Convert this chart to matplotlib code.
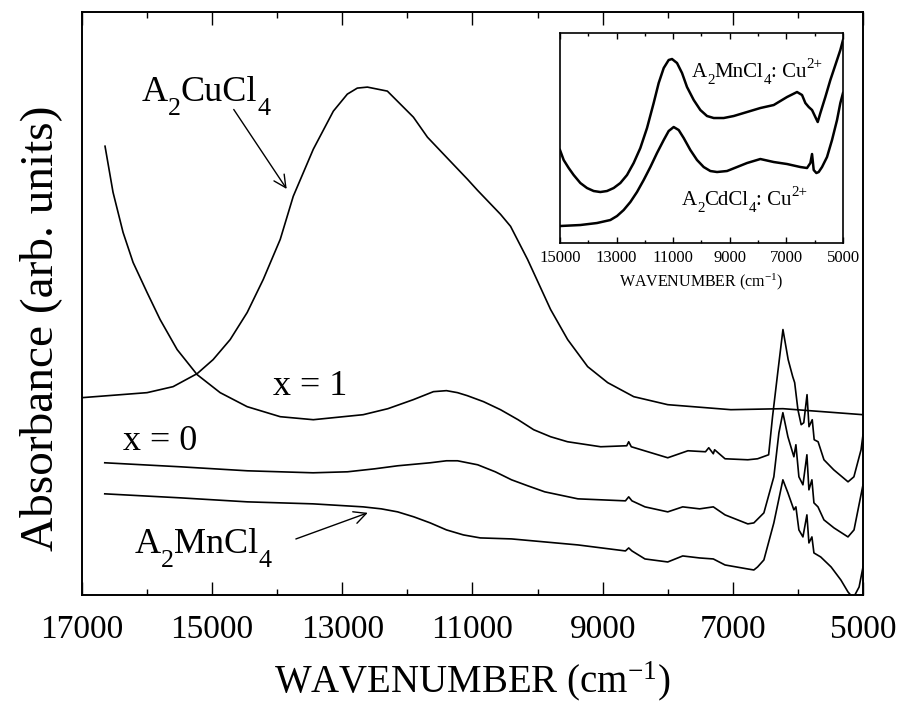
import matplotlib
matplotlib.use("Agg")
import matplotlib.pyplot as plt

plt.rcParams['font.family'] = ['Liberation Serif', 'DejaVu Serif']
plt.rcParams['mathtext.fontset'] = 'custom'
plt.rcParams['mathtext.rm'] = 'Liberation Serif'
plt.rcParams['mathtext.it'] = 'Liberation Serif:italic'
plt.rcParams['mathtext.bf'] = 'Liberation Serif:bold'

# ---------------- main panel data (wavenumber cm-1, absorbance arb. units) -------------
cu_wn = [17000, 16000, 15600, 15230, 14985, 14723, 14462, 14215, 13954, 13754, 13446,
         13138, 12923, 12770, 12615, 12308, 12108, 11908, 11692, 11385, 11077, 10923,
         10569, 10415, 10154, 9800, 9538, 9231, 8923, 8523, 8000, 7031, 6230, 5000]
cu_abs = [197, 202, 208, 221, 235, 255, 282, 315, 355, 398, 445,
          483, 500, 506, 507, 503, 490, 477, 457, 436, 415, 404,
          380, 368, 335, 285, 255, 228, 212, 198, 190, 185, 186, 180]

x1_wn = [16646, 16523, 16369, 16215, 16000, 15800, 15538, 15231, 14877, 14462, 13954,
         13446, 12680, 12300, 11910, 11600, 11400, 11230, 11080, 10830, 10570, 10300,
         10060, 9800, 9540, 9030, 8630, 8600, 8560, 8000, 7690, 7420, 7370, 7300, 7280,
         7120, 6770, 6620, 6450, 6390, 6310, 6230, 6150, 6080, 6050, 6000, 5950, 5910,
         5860, 5830, 5780, 5750, 5690, 5600, 5450, 5230, 5140, 5030, 5000]
x1_abs = [448, 402, 362, 332, 302, 275, 245, 220, 202, 188, 178,
          175, 180, 186, 195, 203, 204, 202, 199, 193, 185, 175,
          165, 158, 153, 148, 149, 153, 148, 137, 144, 143, 147, 141, 145,
          136, 135, 136, 140, 178, 222, 265, 235, 218, 212, 185, 170, 172,
          200, 168, 175, 155, 153, 135, 125, 113, 118, 145, 160]

x0_wn = [16650, 15490, 14460, 13450, 12920, 12500, 12150, 11650, 11400, 11230, 10920,
         10650, 10400, 10150, 9890, 9380, 8650, 8600, 8550, 8350, 8000, 7770, 7510,
         7300, 7120, 6770, 6677, 6523, 6370, 6292, 6231, 6154, 6062, 6031, 5985, 5923,
         5862, 5831, 5785, 5754, 5692, 5600, 5446, 5231, 5138, 5000]
x0_abs = [132, 128, 124, 122, 123, 126, 129, 132, 134, 134, 130,
          123, 115, 109, 103, 96, 94, 98, 94, 88, 83, 88, 86,
          88, 80, 71, 72, 82, 118, 162, 182, 158, 138, 150, 118, 110,
          140, 105, 115, 92, 88, 75, 67, 58, 65, 110]

mn_wn = [16650, 15490, 14460, 13450, 12680, 12400, 12150, 11900, 11650, 11400, 11140,
         10880, 10400, 9890, 9380, 8650, 8600, 8550, 8350, 8000, 7770, 7510, 7300,
         7120, 6770, 6677, 6620, 6523, 6370, 6231, 6154, 6062, 6031, 5985, 5923, 5862,
         5831, 5785, 5754, 5650, 5490, 5340, 5230, 5150, 5060, 5000]
mn_abs = [101, 97, 93, 91, 88, 86, 83, 78, 72, 65, 60,
          57, 56, 53, 50, 44, 47, 44, 36, 33, 39, 37, 36,
          30, 26, 25, 28, 35, 72, 115, 102, 85, 88, 65, 58, 80,
          52, 58, 42, 38, 28, 15, 3, -3, 8, 28]

# ---------------- inset data ----------------
in_mn_wn = [15000, 14870, 14693, 14517, 14281, 14046, 13810, 13575, 13339, 13103, 12868,
            12632, 12397, 12161, 11925, 11690, 11513, 11335, 11160, 11042, 10865, 10688,
            10512, 10275, 10041, 9805, 9568, 9215, 8862, 8391, 7921, 7448, 6978, 6624,
            6447, 6330, 6211, 6094, 5977, 5893, 5800, 5624, 5447, 5270, 5094, 5000]
in_mn_abs = [93, 83, 75, 68, 60, 55, 52, 51, 52, 55, 60,
             68, 80, 95, 115, 140, 160, 175, 183, 184, 180, 170,
             156, 143, 133, 127, 125, 125, 127, 131, 135, 138, 146, 151,
             148, 140, 136, 133, 126, 121, 130, 146, 163, 178, 193, 203]

in_cd_wn = [15000, 14281, 13692, 13221, 12985, 12750, 12514, 12279, 12043, 11807, 11572,
            11335, 11160, 10983, 10806, 10629, 10394, 10158, 9923, 9687, 9451, 9098,
            8744, 8391, 7921, 7448, 6978, 6507, 6271, 6153, 6094, 6035, 5941, 5859,
            5741, 5565, 5388, 5211, 5094, 5000]
in_cd_abs = [17, 18, 20, 23, 27, 33, 41, 51, 63, 76, 90,
             103, 112, 116, 113, 105, 93, 83, 76, 72, 71, 72,
             76, 80, 84, 81, 79, 76, 75, 80, 89, 73, 70, 71,
             76, 86, 103, 123, 140, 150]

main_ticks = [17000, 15000, 13000, 11000, 9000, 7000, 5000]
inset_ticks = [15000, 13000, 11000, 9000, 7000, 5000]


def chem_text(ax, x, y, parts, fs, sub_scale=0.72, drop=0.36, rise=0.42):
    """Draw text with subscripts (-1) / superscripts (+1) placed piece by piece."""
    k_desc = 0.216
    first = ax.text(x, y, parts[0][0], fontsize=fs, ha='left', va='baseline')
    prev, prev_fs, prev_off = first, fs, 0.0
    for s, lvl in parts[1:]:
        f = fs if lvl == 0 else fs * sub_scale
        off = 0.0 if lvl == 0 else (-drop * fs if lvl < 0 else rise * fs)
        dy = off - prev_off + k_desc * prev_fs - k_desc * f
        t = ax.annotate(s, xy=(1, 0), xycoords=prev, xytext=(0, dy),
                        textcoords='offset points', fontsize=f, ha='left', va='bottom')
        prev, prev_fs, prev_off = t, f, off


fig = plt.figure(figsize=(8.97, 7.04), dpi=100)
ax = fig.add_axes([0.0914, 0.1548, 0.8707, 0.8282])

lw = 1.2
for wn, ab in [(cu_wn, cu_abs), (x1_wn, x1_abs), (x0_wn, x0_abs), (mn_wn, mn_abs)]:
    ax.plot(wn, ab, color='black', lw=lw)

ax.set_xlim(17000, 5000)
ax.set_ylim(0, 582)
ax.set_xticks(main_ticks)
ax.set_xticks(range(5000, 17001, 1000), minor=True)
ax.set_xticklabels([str(t) for t in main_ticks], fontsize=24)
ax.set_yticks([])
ax.tick_params(axis='x', which='major', direction='in', length=9.5, width=1, top=True, pad=14)
ax.tick_params(axis='x', which='minor', direction='in', length=4.5, width=1, top=True)
for s in ax.spines.values():
    s.set_linewidth(1.4)
ax.set_xlabel(r'WAVENUMBER (cm$^{\mathregular{-1}}$)', fontsize=28, labelpad=10)
ax.set_ylabel('Absorbance (arb. units)', fontsize=34)
ax.yaxis.set_label_coords(-0.026, 0.458)

# annotations
ax.annotate('', xy=(13831, 403), xytext=(14692, 487),
            arrowprops=dict(arrowstyle='->', lw=1.0, color='black', mutation_scale=22))
chem_text(ax, 16080, 493, [('A', 0), ('2', -1), ('CuCl', 0), ('4', -1)], 26)
ax.annotate('', xy=(12569, 83), xytext=(13754, 55),
            arrowprops=dict(arrowstyle='->', lw=1.0, color='black', mutation_scale=22))
chem_text(ax, 16185, 42, [('A', 0), ('2', -1), ('MnCl', 0), ('4', -1)], 26)
ax.text(13492, 200, 'x = 1', fontsize=26, ha='center', va='baseline')
ax.text(16369, 145, 'x = 0', fontsize=26, ha='left', va='baseline')

# inset
ins = fig.add_axes([0.6243, 0.6548, 0.3155, 0.2983])
ins.plot(in_mn_wn, in_mn_abs, color='black', lw=1.8)
ins.plot(in_cd_wn, in_cd_abs, color='black', lw=1.8)
ins.set_xlim(15000, 5000)
ins.set_ylim(0, 210)
ins.set_xticks(inset_ticks)
ins.set_xticks(range(5000, 15001, 1000), minor=True)
ins.set_xticklabels([str(t) for t in inset_ticks], fontsize=12)
ins.set_yticks([])
ins.tick_params(axis='x', which='major', direction='in', length=4, width=1, top=True, pad=5)
ins.tick_params(axis='x', which='minor', direction='in', length=2.5, width=1, top=True)
for s in ins.spines.values():
    s.set_linewidth(1.2)
ins.set_xlabel(r'WAVENUMBER (cm$^{\mathregular{-1}}$)', fontsize=11.5, labelpad=4)
chem_text(ins, 10335, 166, [('A', 0), ('2', -1), ('MnCl', 0), ('4', -1), (': Cu', 0), ('2+', 1)],
          15, drop=0.3, rise=0.45)
chem_text(ins, 10689, 38, [('A', 0), ('2', -1), ('CdCl', 0), ('4', -1), (': Cu', 0), ('2+', 1)],
          15, drop=0.3, rise=0.45)

fig.savefig('out.png', dpi=100)
